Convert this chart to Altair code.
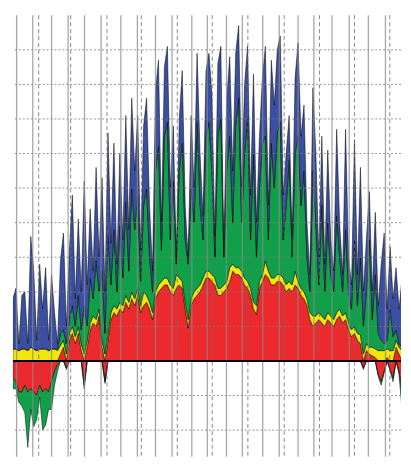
import altair as alt
import pandas as pd

# Boundary levels of the stacked bands (y units), one value per time step
red_top = [
    0, 0, 0, 0, 0, 0, 0, 0, 0, 0,
    0, 0, 0, 0, 0, 0, 0.2, 0.4, 0, 0.6,
    0.8, 0.5, 0.8, 0.3, 0, 0.4, 0.9, 1.1, 1.0, 1.3,
    0.4, 0, 0.6, 1.2, 1.4, 1.3, 1.5, 1.4, 1.7, 1.5,
    1.8, 1.6, 1.9, 1.4, 1.6, 1.7, 1.5, 1.2, 1.8, 2.0,
    2.1, 2.2, 2.2, 2.0, 1.9, 2.1, 2.2, 2.1, 1.5, 0.95,
    1.6, 1.8, 1.9, 2.0, 2.2, 2.4, 2.4, 2.3, 2.2, 1.9,
    1.9, 2.0, 2.1, 2.3, 2.6, 2.5, 2.5, 2.4, 2.2, 2.1,
    1.9, 1.5, 1.35, 2.1, 2.3, 2.5, 2.4, 2.2, 2.2, 2.3,
    2.3, 2.2, 2.0, 2.1, 2.0, 2.2, 2.1, 1.9, 1.8, 1.6,
    1.2, 1.0, 1.1, 1.2, 1.1, 1.0, 1.2, 1.1, 1.0, 1.2,
    1.3, 1.1, 1.2, 0.9, 0.7, 0.8, 0.6, 0.5, 0, 0.3,
    0.2, 0.15, 0.1, 0, 0, 0, 0.1, 0, 0, 0.4,
    0.2, 0, 0, 0.1,
]
yellow_top = [
    0.35, 0.35, 0.3, 0.35, 0.35, 0.3, 0.4, 0.35, 0.3, 0.35,
    0.35, 0.35, 0.3, 0.35, 0.35, 0.3, 0.45, 0.6, 0.2, 0.8,
    1.0, 0.7, 1.0, 0.5, 0.2, 0.6, 1.1, 1.3, 1.2, 1.5,
    0.6, 0.2, 0.8, 1.4, 1.6, 1.5, 1.7, 1.6, 1.9, 1.7,
    2.0, 1.8, 2.1, 1.6, 2.0, 1.9, 1.7, 1.4, 2.0, 2.2,
    2.3, 2.4, 2.4, 2.2, 2.1, 2.5, 2.4, 2.3, 1.7, 1.2,
    1.8, 2.0, 2.1, 2.2, 2.4, 2.6, 2.6, 2.5, 2.4, 2.1,
    2.1, 2.2, 2.3, 2.7, 2.8, 2.7, 2.7, 2.6, 2.4, 2.3,
    2.1, 1.7, 1.6, 2.3, 2.5, 2.9, 2.6, 2.4, 2.4, 2.5,
    2.5, 2.4, 2.2, 2.3, 2.2, 2.6, 2.3, 2.1, 2.0, 1.8,
    1.4, 1.3, 1.3, 1.4, 1.3, 1.2, 1.4, 1.3, 1.2, 1.4,
    1.5, 1.3, 1.4, 1.1, 0.9, 1.0, 0.8, 0.75, 0.2, 0.5,
    0.4, 0.4, 0.35, 0.3, 0.3, 0.3, 0.35, 0.3, 0.3, 0.6,
    0.4, 0.3, 0.25, 0.3,
]
green_top = [
    0.35, 0.35, 0.3, 0.35, 0.35, 0.3, 0.4, 0.35, 0.3, 0.35,
    0.35, 0.35, 0.3, 0.35, 0.35, 0.35, 0.8, 0.9, 0.5, 1.2,
    1.6, 1.0, 1.9, 0.9, 1.6, 1.0, 2.4, 1.8, 2.9, 2.0,
    2.6, 0.8, 3.6, 2.2, 3.8, 2.0, 3.9, 2.4, 4.6, 2.6,
    5.0, 3.8, 4.8, 2.3, 4.5, 5.0, 3.0, 2.0, 5.5, 6.2,
    3.2, 6.5, 6.9, 3.5, 5.2, 2.8, 5.5, 6.3, 3.5, 2.8,
    5.0, 4.0, 6.9, 4.5, 3.5, 6.5, 6.9, 5.5, 3.0, 6.5,
    7.0, 3.0, 5.5, 6.5, 4.0, 6.8, 7.6, 4.0, 6.0, 7.0,
    3.5, 6.0, 3.0, 5.0, 6.3, 6.5, 3.5, 6.3, 5.0, 6.6,
    6.9, 3.5, 4.5, 5.8, 3.0, 6.0, 6.5, 4.5, 5.5, 3.0,
    2.0, 5.5, 4.0, 2.2, 4.5, 2.0, 4.0, 2.5, 2.0, 4.2,
    3.0, 2.0, 3.8, 2.0, 1.5, 3.5, 1.6, 3.0, 1.0, 2.0,
    3.5, 1.2, 2.5, 0.8, 0.6, 0.5, 0.6, 1.5, 0.7, 0.9,
    0.5, 0.4, 0.3, 0.4,
]
total_top = [
    1.8, 2.1, 0.5, 1.9, 2.0, 0.5, 3.6, 2.6, 0.6, 2.8,
    1.5, 2.7, 0.6, 2.5, 1.4, 0.5, 2.9, 3.7, 1.0, 3.2,
    4.8, 1.8, 4.1, 2.0, 5.2, 2.2, 4.4, 2.6, 5.6, 3.0,
    5.3, 2.0, 6.6, 3.4, 6.3, 2.8, 6.0, 3.5, 7.1, 3.8,
    7.6, 5.5, 7.1, 3.2, 6.8, 7.6, 4.5, 2.6, 7.8, 8.7,
    4.0, 8.5, 9.1, 5.0, 6.8, 3.0, 7.0, 8.4, 4.5, 3.0,
    7.1, 5.0, 8.9, 6.0, 4.2, 8.4, 8.9, 7.7, 3.6, 8.6,
    9.1, 3.2, 7.6, 8.8, 5.5, 8.9, 9.7, 5.0, 8.0, 9.1,
    4.8, 8.3, 4.0, 6.5, 8.2, 9.1, 4.5, 8.7, 7.4, 9.0,
    9.4, 4.8, 6.0, 7.1, 3.6, 8.2, 9.2, 6.5, 7.4, 4.0,
    2.5, 7.9, 6.0, 3.0, 6.5, 2.8, 6.1, 3.5, 2.6, 6.7,
    4.0, 2.5, 6.7, 3.0, 2.2, 6.4, 2.5, 5.6, 2.0, 3.5,
    4.9, 2.0, 4.3, 1.6, 2.8, 3.7, 1.5, 3.3, 1.8, 2.7,
    1.5, 2.4, 2.3, 1.8,
]
red_bottom = [
    -0.5, -0.6, -0.9, -0.9, -0.7, -0.9, -0.8, -0.9, -1.0, -0.7,
    -0.9, -0.8, -0.9, -0.6, -0.3, -0.1, 0, 0, -0.2, 0,
    0, 0, 0, 0, -0.7, 0, 0, 0, 0, 0,
    0, -0.6, 0, 0, 0, 0, 0, 0, 0, 0,
    0, 0, 0, 0, 0, 0, 0, 0, 0, 0,
    0, 0, 0, 0, 0, 0, 0, 0, 0, 0,
    0, 0, 0, 0, 0, 0, 0, 0, 0, 0,
    0, 0, 0, 0, 0, 0, 0, 0, 0, 0,
    0, 0, 0, 0, 0, 0, 0, 0, 0, 0,
    0, 0, 0, 0, 0, 0, 0, 0, 0, 0,
    0, 0, 0, 0, 0, 0, 0, 0, 0, 0,
    0, 0, 0, 0, 0, 0, 0, 0, -0.2, 0,
    0, 0, 0, -0.4, -0.6, -0.3, 0, -0.25, -0.5, 0,
    -0.3, -0.9, -0.6, -0.2,
]
green_bottom = [
    -0.8, -0.8, -1.2, -1.3, -1.5, -2.5, -1.4, -1.9, -1.7, -1.05,
    -2.0, -1.85, -1.4, -1.4, -0.7, -0.3, 0, 0, -0.25, 0,
    0, 0, 0, 0, -0.8, 0, 0, 0, 0, 0,
    0, -0.65, 0, 0, 0, 0, 0, 0, 0, 0,
    0, 0, 0, 0, 0, 0, 0, 0, 0, 0,
    0, 0, 0, 0, 0, 0, 0, 0, 0, 0,
    0, 0, 0, 0, 0, 0, 0, 0, 0, 0,
    0, 0, 0, 0, 0, 0, 0, 0, 0, 0,
    0, 0, 0, 0, 0, 0, 0, 0, 0, 0,
    0, 0, 0, 0, 0, 0, 0, 0, 0, 0,
    0, 0, 0, 0, 0, 0, 0, 0, 0, 0,
    0, 0, 0, 0, 0, 0, 0, 0, -0.25, 0,
    0, 0, 0, -0.45, -0.7, -0.35, 0, -0.3, -0.6, 0,
    -0.4, -1.4, -0.9, -0.3,
]

# Grid positions (in time-step units) and horizontal grid values
grid_solid_x = [1.23, 6.67, 13, 18.57, 24.1, 29.67, 36.33, 41.9, 48, 53.57, 60.23,
                65.43, 71.9, 77.23, 84.1, 89.67, 96, 101.33, 107.43, 113.23,
                119.67, 125.43]
grid_dashed_x = [8.67, 19.43, 31.67, 43.23, 55.33, 67.1, 79.1, 91.33, 103.23, 115, 126.9]
grid_y = [-2, -1, 1, 2, 3, 4, 5, 6, 7, 8, 9]

series_names = ["red+", "yellow", "green+", "blue", "red-", "green-"]
series_colors = ["#ec2a2e", "#f2e60a", "#10a04a", "#3a4fa2", "#ec2a2e", "#10a04a"]

rows = []
for i in range(len(total_top)):
    rows.append({"x": i, "s": "red+", "lo": 0, "hi": red_top[i]})
    rows.append({"x": i, "s": "yellow", "lo": red_top[i], "hi": yellow_top[i]})
    rows.append({"x": i, "s": "green+", "lo": yellow_top[i], "hi": green_top[i]})
    rows.append({"x": i, "s": "blue", "lo": green_top[i], "hi": total_top[i]})
    rows.append({"x": i, "s": "red-", "lo": red_bottom[i], "hi": 0})
    rows.append({"x": i, "s": "green-", "lo": green_bottom[i], "hi": red_bottom[i]})
df = pd.DataFrame(rows)

xs = alt.Scale(domain=[0, 130.67], nice=False, zero=False)
ys = alt.Scale(domain=[-2.77, 10], nice=False, zero=False)

areas = alt.Chart(df).mark_area(
    stroke="black", strokeWidth=0.5, interpolate="linear", clip=True
).encode(
    x=alt.X("x:Q", scale=xs, axis=None),
    y=alt.Y("hi:Q", scale=ys, axis=None),
    y2="lo:Q",
    color=alt.Color("s:N", scale=alt.Scale(domain=series_names, range=series_colors), legend=None),
)

hgrid = alt.Chart(pd.DataFrame({"y": grid_y})).mark_rule(
    color="#7a7a7a", strokeDash=[2, 2], strokeWidth=1, opacity=0.8
).encode(y=alt.Y("y:Q", scale=ys, axis=None))

vsolid = alt.Chart(pd.DataFrame({"x": grid_solid_x})).mark_rule(
    color="#8a8a8a", strokeWidth=1.3, opacity=0.75
).encode(x=alt.X("x:Q", scale=xs, axis=None))

vdashed = alt.Chart(pd.DataFrame({"x": grid_dashed_x})).mark_rule(
    color="#6a6a6a", strokeDash=[4, 3], strokeWidth=1, opacity=0.8
).encode(x=alt.X("x:Q", scale=xs, axis=None))

zero = alt.Chart(pd.DataFrame({"y": [0]})).mark_rule(color="black", strokeWidth=2.2).encode(
    y=alt.Y("y:Q", scale=ys, axis=None)
)

chart = alt.layer(areas, hgrid, vsolid, vdashed, zero).properties(
    width=392, height=446, padding={"left": 3, "top": 4, "right": 0, "bottom": 0}
).configure_view(stroke=None)

chart.save("out.html", embed_options={"renderer": "svg", "actions": False})
